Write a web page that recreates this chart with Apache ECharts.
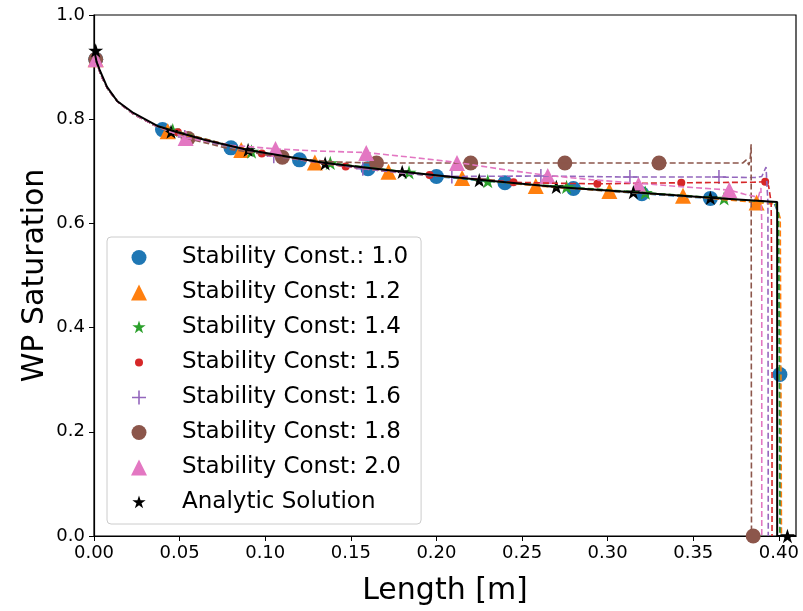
<!DOCTYPE html>
<html>
<head>
<meta charset="utf-8">
<script src="https://cdn.jsdelivr.net/npm/echarts@6.0.0/dist/echarts.min.js"></script>
<style>
  html, body { margin: 0; padding: 0; background: #fff; }
  #chart { width: 803px; height: 611px; }
</style>
</head>
<body>
<div id="chart"></div>
<script>
// tick labels
const lengthTicks = [0, 0.05, 0.10, 0.15, 0.20, 0.25, 0.30, 0.35, 0.40];
const saturationTicks = [0, 0.2, 0.4, 0.6, 0.8, 1.0];

// analytic solution
const analyticLine = [[0, 0.935], [0.0015, 0.91], [0.0035, 0.893], [0.0076, 0.862], [0.0135, 0.835], [0.023, 0.812], [0.037, 0.787], [0.0468, 0.777], [0.065, 0.760], [0.09, 0.741], [0.135, 0.716], [0.18, 0.699], [0.225, 0.684], [0.27, 0.670], [0.315, 0.660], [0.36, 0.649], [0.399, 0.641], [0.399, 0], [0.41, 0]];
const analyticMarks = [[0.001, 0.932], [0.045, 0.776], [0.09, 0.741], [0.135, 0.715], [0.18, 0.699], [0.225, 0.683], [0.27, 0.670], [0.315, 0.660], [0.36, 0.649], [0.405, 0]];

// stability const 1.0
const line10 = [[0.001, 0.915], [0.004, 0.885], [0.008, 0.858], [0.014, 0.833], [0.023, 0.810], [0.035, 0.789], [0.04, 0.780], [0.08, 0.745], [0.12, 0.722], [0.16, 0.705], [0.20, 0.690], [0.24, 0.678], [0.28, 0.667], [0.32, 0.657], [0.36, 0.648], [0.397, 0.641], [0.3995, 0.62], [0.4003, 0.45], [0.4006, 0.31], [0.401, 0.05], [0.4012, 0]];
const marks10 = [[0.001, 0.915], [0.04, 0.780], [0.08, 0.745], [0.12, 0.722], [0.16, 0.705], [0.20, 0.690], [0.24, 0.678], [0.28, 0.667], [0.32, 0.657], [0.36, 0.648], [0.4006, 0.31]];

// stability const 1.2
const line12 = [[0.001, 0.915], [0.004, 0.885], [0.008, 0.858], [0.014, 0.833], [0.023, 0.810], [0.035, 0.789], [0.043, 0.777], [0.086, 0.741], [0.129, 0.717], [0.172, 0.699], [0.215, 0.687], [0.258, 0.672], [0.301, 0.662], [0.344, 0.653], [0.387, 0.640], [0.398, 0.637], [0.4008, 0.61], [0.4012, 0.3], [0.4015, 0]];
const marks12 = [[0.001, 0.915], [0.043, 0.777], [0.086, 0.741], [0.129, 0.717], [0.172, 0.699], [0.215, 0.687], [0.258, 0.672], [0.301, 0.662], [0.344, 0.653], [0.387, 0.640]];

// stability const 1.4
const line14 = [[0.001, 0.915], [0.004, 0.885], [0.008, 0.858], [0.014, 0.833], [0.023, 0.810], [0.035, 0.789], [0.046, 0.779], [0.092, 0.738], [0.138, 0.716], [0.184, 0.698], [0.230, 0.681], [0.276, 0.670], [0.322, 0.659], [0.368, 0.648], [0.398, 0.640], [0.3998, 0.62], [0.4003, 0.3], [0.4005, 0]];
const marks14 = [[0.001, 0.915], [0.046, 0.779], [0.092, 0.738], [0.138, 0.716], [0.184, 0.698], [0.230, 0.681], [0.276, 0.670], [0.322, 0.659], [0.368, 0.648]];

// stability const 1.5
const line15 = [[0.001, 0.915], [0.004, 0.885], [0.008, 0.858], [0.014, 0.833], [0.023, 0.810], [0.035, 0.789], [0.049, 0.775], [0.098, 0.734], [0.147, 0.709], [0.196, 0.693], [0.245, 0.679], [0.27, 0.677], [0.294, 0.676], [0.343, 0.678], [0.385, 0.679], [0.392, 0.680], [0.394, 0.672], [0.3955, 0.64], [0.396, 0.4], [0.396, 0]];
const marks15 = [[0.001, 0.915], [0.049, 0.775], [0.098, 0.734], [0.147, 0.709], [0.196, 0.693], [0.245, 0.679], [0.294, 0.676], [0.343, 0.678], [0.392, 0.680]];

// stability const 1.6
const line16 = [[0.001, 0.915], [0.004, 0.885], [0.008, 0.858], [0.014, 0.833], [0.023, 0.810], [0.035, 0.789], [0.053, 0.766], [0.105, 0.729], [0.157, 0.705], [0.185, 0.695], [0.209, 0.690], [0.261, 0.691], [0.313, 0.689], [0.365, 0.689], [0.386, 0.688], [0.390, 0.690], [0.3925, 0.708], [0.3936, 0.64], [0.3938, 0]];
const marks16 = [[0.001, 0.915], [0.053, 0.766], [0.105, 0.729], [0.157, 0.705], [0.209, 0.690], [0.261, 0.691], [0.313, 0.689], [0.365, 0.689]];

// stability const 1.8
const line18 = [[0.001, 0.915], [0.004, 0.885], [0.008, 0.858], [0.014, 0.833], [0.023, 0.810], [0.035, 0.789], [0.055, 0.763], [0.08, 0.742], [0.11, 0.727], [0.14, 0.718], [0.165, 0.716], [0.22, 0.716], [0.275, 0.716], [0.33, 0.716], [0.379, 0.716], [0.381, 0.722], [0.3825, 0.712], [0.3833, 0.726], [0.3838, 0.752], [0.384, 0]];
const marks18 = [[0.001, 0.915], [0.055, 0.763], [0.11, 0.727], [0.165, 0.716], [0.22, 0.716], [0.275, 0.716], [0.33, 0.716], [0.385, 0]];

// stability const 2.0
const line20 = [[0.001, 0.915], [0.004, 0.885], [0.008, 0.858], [0.014, 0.833], [0.023, 0.810], [0.035, 0.789], [0.0535, 0.764], [0.08, 0.750], [0.106, 0.743], [0.13, 0.739], [0.159, 0.736], [0.185, 0.727], [0.212, 0.717], [0.24, 0.703], [0.265, 0.692], [0.29, 0.684], [0.318, 0.677], [0.345, 0.670], [0.371, 0.664], [0.38, 0.656], [0.388, 0.650], [0.3895, 0.668], [0.390, 0.6], [0.390, 0]];
const marks20 = [[0.001, 0.915], [0.0535, 0.764], [0.106, 0.743], [0.159, 0.735], [0.212, 0.716], [0.265, 0.691], [0.318, 0.674], [0.371, 0.664]];

// marker shapes
function fmt(p) { return p[0].toFixed(2) + ',' + p[1].toFixed(2); }
function starPath(cx, cy, R) {
  const pts = [];
  for (let i = 0; i < 10; i++) {
    const r = i % 2 ? R * 0.382 : R;
    const a = -Math.PI / 2 + i * Math.PI / 5;
    pts.push([cx + r * Math.cos(a), cy + r * Math.sin(a)]);
  }
  return 'M' + pts.map(fmt).join('L') + 'Z';
}
function circlePath(cx, cy, r) {
  return 'M' + (cx - r) + ',' + cy + 'A' + r + ',' + r + ' 0 1,0 ' + (cx + r) + ',' + cy +
    'A' + r + ',' + r + ' 0 1,0 ' + (cx - r) + ',' + cy + 'Z';
}
function trianglePath(cx, cy, h) {
  return 'M' + cx + ',' + (cy - h) + 'L' + (cx + h) + ',' + (cy + h) + 'L' + (cx - h) + ',' + (cy + h) + 'Z';
}
function plusPath(cx, cy, h, t) {
  const p = [[cx - t, cy - h], [cx + t, cy - h], [cx + t, cy - t], [cx + h, cy - t], [cx + h, cy + t], [cx + t, cy + t],
    [cx + t, cy + h], [cx - t, cy + h], [cx - t, cy + t], [cx - h, cy + t], [cx - h, cy - t], [cx - t, cy - t]];
  return 'M' + p.map(fmt).join('L') + 'Z';
}
// legend icons sit in a 48x20 box, icon centred at (10,10)
const BOX = 'M0,0M48,20';
function legendIcon(shape) { return 'path://' + BOX + shape; }

const STAR = 'path://' + starPath(0, 0, 10);
const PLUS = 'path://' + plusPath(0, 0, 10, 1.1);

const FONT = 'DejaVu Sans';

const sims = [
  { name: 'Stability Const.: 1.0', color: '#1f77b4', line: line10, marks: marks10, symbol: 'circle', size: 15, icon: circlePath(10, 10, 7.5) },
  { name: 'Stability Const: 1.2', color: '#ff7f0e', line: line12, marks: marks12, symbol: 'triangle', size: 16, icon: trianglePath(10, 10, 8) },
  { name: 'Stability Const: 1.4', color: '#2ca02c', line: line14, marks: marks14, symbol: STAR, size: 15, icon: starPath(10, 10, 7) },
  { name: 'Stability Const: 1.5', color: '#d62728', line: line15, marks: marks15, symbol: 'circle', size: 8, icon: circlePath(10, 10, 4) },
  { name: 'Stability Const: 1.6', color: '#9467bd', line: line16, marks: marks16, symbol: PLUS, size: 14, icon: plusPath(10, 10, 7, 0.8) },
  { name: 'Stability Const: 1.8', color: '#8c564b', line: line18, marks: marks18, symbol: 'circle', size: 15, icon: circlePath(10, 10, 7.5) },
  { name: 'Stability Const: 2.0', color: '#e377c2', line: line20, marks: marks20, symbol: 'triangle', size: 16, icon: trianglePath(10, 10, 8) }
];

const series = [];
sims.forEach(function (s) {
  series.push({
    name: s.name + ' (line)',
    type: 'line',
    data: s.line,
    symbol: 'none',
    lineStyle: { color: s.color, width: 1.6, type: [6, 3] },
    silent: true
  });
  series.push({
    name: s.name,
    type: 'scatter',
    data: s.marks,
    symbol: s.symbol,
    symbolSize: s.size,
    symbolKeepAspect: true,
    itemStyle: { color: s.color, opacity: 1 }
  });
});
series.push({
  name: 'Analytic Solution (line)',
  type: 'line',
  data: analyticLine,
  symbol: 'none',
  lineStyle: { color: '#000', width: 2 },
  silent: true
});
series.push({
  name: 'Analytic Solution',
  type: 'scatter',
  data: analyticMarks,
  symbol: STAR,
  symbolSize: 15,
  symbolKeepAspect: true,
  itemStyle: { color: '#000', opacity: 1 }
});

const legendData = sims.map(function (s) { return { name: s.name, icon: legendIcon(s.icon) }; });
legendData.push({ name: 'Analytic Solution', icon: legendIcon(starPath(10, 10, 7)) });

var myChart = echarts.init(document.getElementById('chart'));
const option = {
  animation: false,
  backgroundColor: '#fff',
  grid: {
    left: 94,
    top: 15,
    right: 7,
    bottom: 74,
    show: true,
    borderColor: '#000',
    borderWidth: 1.2,
    backgroundColor: 'transparent'
  },
  legend: {
    orient: 'vertical',
    left: 107,
    top: 237,
    data: legendData,
    itemWidth: 48,
    itemHeight: 20,
    itemGap: 12,
    padding: [9, 13, 10, 22],
    backgroundColor: 'rgba(255,255,255,0.85)',
    borderColor: '#cccccc',
    borderWidth: 1,
    borderRadius: 4,
    selectedMode: false,
    textStyle: { fontFamily: FONT, fontSize: 23, color: '#000' }
  },
  xAxis: {
    type: 'value',
    min: 0,
    max: 0.41,
    name: 'Length [m]',
    nameLocation: 'middle',
    nameGap: 40,
    nameMoveOverlap: false,
    nameTextStyle: { fontFamily: FONT, fontSize: 30, color: '#000' },
    axisLine: { show: true, onZero: false, lineStyle: { color: '#000', width: 1.2 } },
    axisTick: { show: true, inside: false, length: 5, customValues: lengthTicks, lineStyle: { color: '#000', width: 1 } },
    axisLabel: {
      customValues: lengthTicks,
      margin: 8,
      fontFamily: FONT,
      fontSize: 18,
      color: '#000',
      formatter: function (v) { return v.toFixed(2); }
    },
    splitLine: { show: false }
  },
  yAxis: {
    type: 'value',
    min: 0,
    max: 1,
    interval: 0.2,
    name: 'WP Saturation',
    nameLocation: 'middle',
    nameGap: 44,
    nameMoveOverlap: false,
    nameTextStyle: { fontFamily: FONT, fontSize: 30, color: '#000' },
    axisLine: { show: true, onZero: false, lineStyle: { color: '#000', width: 1.2 } },
    axisTick: { show: true, inside: false, length: 5, customValues: saturationTicks, lineStyle: { color: '#000', width: 1 } },
    axisLabel: {
      customValues: saturationTicks,
      margin: 9,
      fontFamily: FONT,
      fontSize: 18,
      color: '#000',
      formatter: function (v) { return v.toFixed(1); }
    },
    splitLine: { show: false }
  },
  series: series
};
myChart.setOption(option);
</script>
</body>
</html>
